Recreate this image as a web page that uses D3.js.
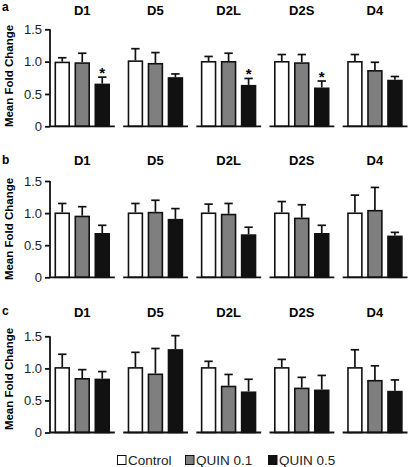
<!DOCTYPE html>
<html><head><meta charset="utf-8">
<script src="https://cdn.jsdelivr.net/npm/d3@7"></script>
<style>body{margin:0;background:#fff}svg{display:block}text{font-family:"Liberation Sans",Arial,sans-serif}</style>
</head><body><svg id="c" width="409" height="467"></svg>
<script>
// ---- data ----
const groups = ["D1","D5","D2L","D2S","D4"];
const series = ["Control","QUIN 0.1","QUIN 0.5"];
const panelLabels = ["a","b","c"];
const tickValues = [0, 0.5, 1.0, 1.5];
const yLabel = "Mean Fold Change";
// means per panel: rows = groups, cols = series
const meansA = [[1.00,0.99,0.66],[1.02,0.98,0.76],[1.01,1.01,0.64],[1.01,0.99,0.60],[1.01,0.87,0.72]];
const topsA  = [[1.06,1.13,0.76],[1.20,1.14,0.81],[1.08,1.13,0.74],[1.11,1.11,0.70],[1.11,0.99,0.77]];
const meansB = [[1.01,0.96,0.69],[1.01,1.02,0.91],[1.01,0.99,0.67],[1.01,0.93,0.69],[1.01,1.05,0.65]];
const topsB  = [[1.15,1.10,0.81],[1.15,1.20,1.07],[1.14,1.15,0.78],[1.18,1.13,0.81],[1.28,1.40,0.70]];
const meansC = [[1.02,0.85,0.84],[1.02,0.92,1.30],[1.02,0.73,0.64],[1.02,0.70,0.67],[1.02,0.82,0.65]];
const topsC  = [[1.22,0.98,0.95],[1.25,1.31,1.51],[1.11,0.905,0.83],[1.14,0.86,0.89],[1.29,1.04,0.82]];
// significance markers: [group index, series index]
const starsA = [[0,2],[2,2],[3,2]];
const starsB = [];
const starsC = [];

const panelData = [
  {means: meansA, tops: topsA, stars: starsA},
  {means: meansB, tops: topsB, stars: starsB},
  {means: meansC, tops: topsC, stars: starsC}
];

// ---- layout ----
const layout = [
  {top: 29.3, bottom: 126.3, titleY: 14.5,  letterY: 11,  labelY: 76},
  {top: 181,  bottom: 277.3, titleY: 164.5, letterY: 164, labelY: 229},
  {top: 336.3,bottom: 432.5, titleY: 317,   letterY: 315, labelY: 379}
];
const fills = ["#ffffff","#7f7f7f","#111111"];
const svg = d3.select("#c");

const xg = d3.scaleBand().domain(groups).range([50, 407.5]).paddingInner(0.114).paddingOuter(0);
const xs = d3.scaleBand().domain(series).range([4.5, 60]).paddingInner(0.225).paddingOuter(0);

panelData.forEach((pd, pi) => {
  const L = layout[pi];
  const y = d3.scaleLinear().domain([0,1.5]).range([L.bottom, L.top]);
  const g = svg.append("g");

  // panel letter
  g.append("text").attr("x", 2).attr("y", L.letterY).attr("font-weight","bold")
    .attr("font-size", 12).text(panelLabels[pi]);
  // y label
  g.append("text").attr("transform", `translate(12.5,${L.labelY}) rotate(-90)`)
    .attr("text-anchor","middle").attr("font-weight","bold").attr("font-size", 11.5).text(yLabel);

  // y axis
  const ax = g.append("g").attr("transform", `translate(${xg(groups[0])},0)`)
    .call(d3.axisLeft(y).tickValues(tickValues).tickSize(5).tickPadding(3)
      .tickFormat(d => d === 0 ? "0" : d3.format(".1f")(d)));
  ax.select(".domain").remove();
  ax.selectAll(".tick line").attr("stroke","#111").attr("stroke-width",1.8);
  ax.selectAll(".tick text").attr("font-size",13).attr("fill","#222")
    .style("font-family",'"Liberation Sans",Arial,sans-serif');
  g.append("line").attr("x1", xg(groups[0])).attr("x2", xg(groups[0]))
    .attr("y1", y(0)).attr("y2", y(1.5)).attr("stroke","#111").attr("stroke-width",1.8);

  groups.forEach((grp, gi) => {
    const gx = xg(grp);
    const gg = g.append("g").attr("transform", `translate(${gx},0)`);
    // title
    gg.append("text").attr("x", (xs(series[0]) + xs(series[2]) + xs.bandwidth())/2)
      .attr("y", L.titleY).attr("text-anchor","middle").attr("font-weight","bold")
      .attr("font-size", 13).text(grp);
    // bars
    series.forEach((s, si) => {
      const v = pd.means[gi][si], t = pd.tops[gi][si];
      const bx = xs(s), bw = xs.bandwidth(), cx = bx + bw/2;
      // error bar
      gg.append("line").attr("x1",cx).attr("x2",cx).attr("y1",y(v)).attr("y2",y(t))
        .attr("stroke","#111").attr("stroke-width",1.7);
      gg.append("line").attr("x1",cx-4.2).attr("x2",cx+4.2).attr("y1",y(t)).attr("y2",y(t))
        .attr("stroke","#111").attr("stroke-width",1.7);
      gg.append("rect").attr("x", bx+0.8).attr("width", bw-1.6)
        .attr("y", y(v)+0.8).attr("height", y(0)-y(v)-0.8)
        .attr("fill", fills[si]).attr("stroke","#111").attr("stroke-width",1.6);
    });
    // baseline segment
    gg.append("line").attr("x1", 0).attr("x2", xg.bandwidth()).attr("y1", y(0)).attr("y2", y(0))
      .attr("stroke","#111").attr("stroke-width",1.8);
    // stars
    pd.stars.filter(st => st[0] === gi).forEach(st => {
      const s = series[st[1]];
      gg.append("text").attr("x", xs(s) + xs.bandwidth()/2).attr("y", y(pd.tops[gi][st[1]]) + 1)
        .attr("text-anchor","middle").attr("font-weight","bold").attr("font-size",15).text("*");
    });
  });
});

// legend
const legX = [117, 185, 268];
const leg = svg.append("g");
series.forEach((s, i) => {
  leg.append("rect").attr("x", legX[i]+0.5).attr("y", 455.5).attr("width", 8.5).attr("height", 9)
    .attr("fill", fills[i]).attr("stroke","#111").attr("stroke-width",1);
  leg.append("text").attr("x", legX[i] + 11).attr("y", 465).attr("font-size", 13.5).attr("fill","#222").text(s);
});
</script></body></html>
